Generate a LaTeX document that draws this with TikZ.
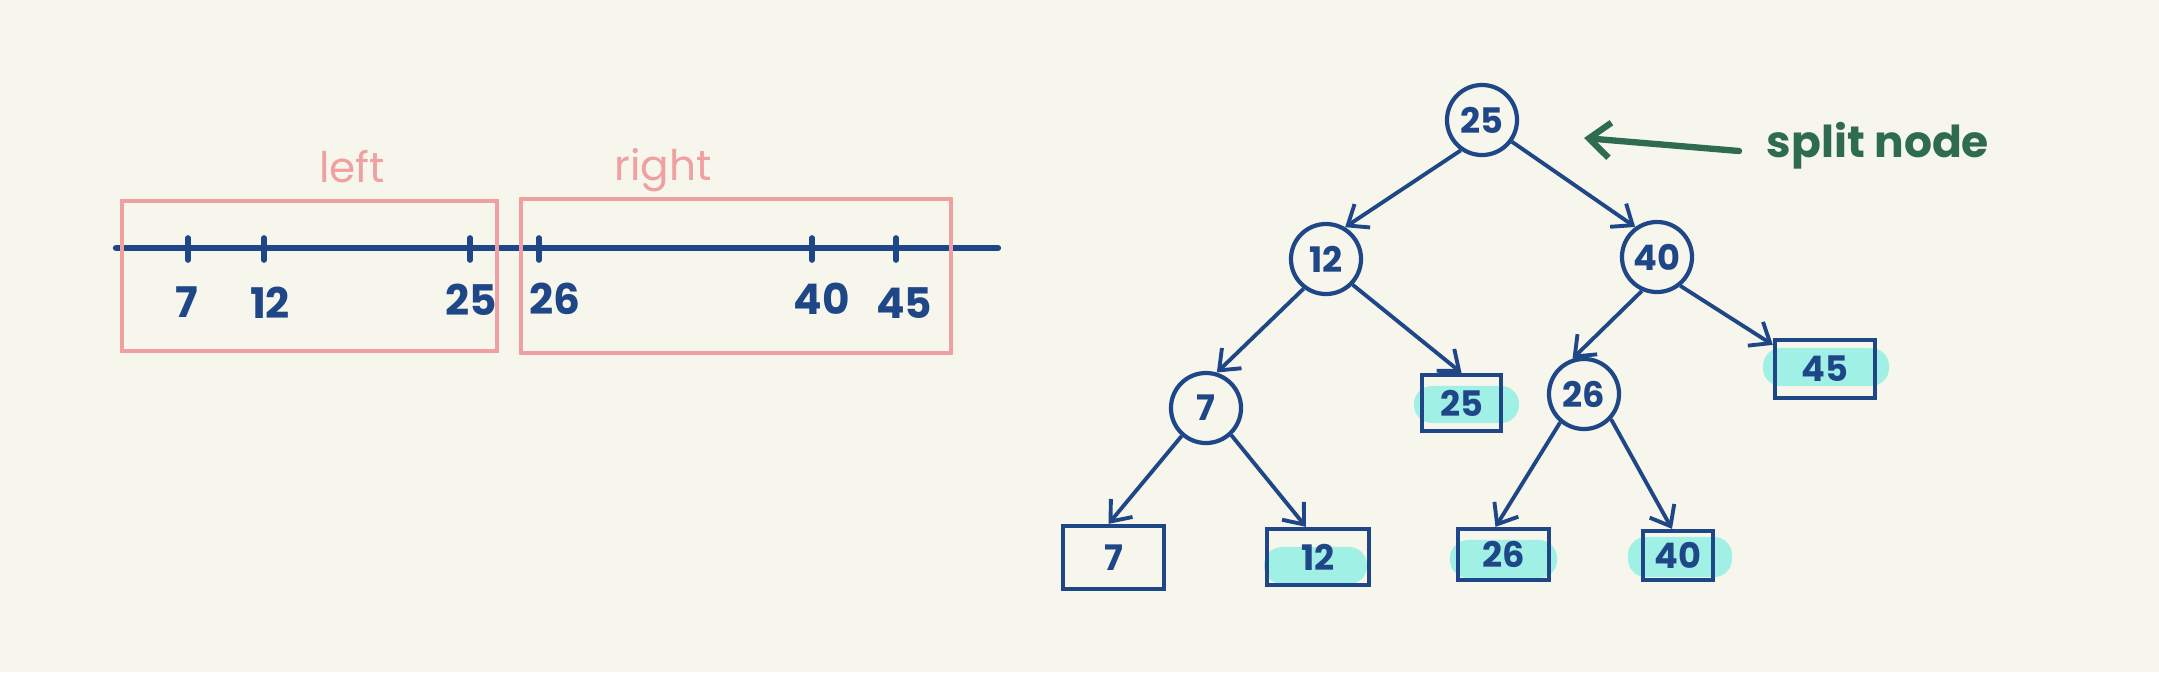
\documentclass[tikz,border=0pt]{standalone}
\usepackage{fontspec}
\setmainfont{Poppins}
\usetikzlibrary{arrows.meta}
\definecolor{bg}{HTML}{F6F6EC}
\definecolor{navy}{HTML}{1F4788}
\definecolor{pinkc}{HTML}{F0A0A0}
\definecolor{cyanhl}{HTML}{A0F0E6}
\definecolor{greenc}{HTML}{2E6B50}
\begin{document}
\begin{tikzpicture}[x=0.01cm,y=-0.01cm,
  cnode/.style={circle,draw=navy,line width=1.2pt,minimum size=0.7cm,inner sep=0pt,
    font=\bfseries\fontsize{10}{10}\selectfont,text=navy},
  leaf/.style={rectangle,draw=navy,line width=1.2pt,inner sep=0pt,
    font=\bfseries\fontsize{10}{10}\selectfont,text=navy},
  hl/.style={fill=cyanhl,rounded corners=0.18cm,inner sep=0pt},
  edge/.style={draw=navy,line width=1.1pt,-{Straight Barb[length=5pt,width=8pt]}},
  pinkbox/.style={draw=pinkc,line width=1pt,inner sep=0pt},
  tick/.style={draw=navy,line width=1.6pt,line cap=round},
  numlab/.style={text=navy,font=\bfseries\fontsize{12}{12}\selectfont},
  pinklab/.style={text=pinkc,font=\fontsize{12}{12}\selectfont},
]
\useasboundingbox[fill=bg] (0,0) rectangle (2159,672);

% number line
\coordinate (lineA) at (116,248);
\coordinate (lineB) at (998,248);
\draw[navy,line width=1.8pt,line cap=round] (lineA) -- (lineB);
\foreach \x in {188,264,470,539,812,896}
  \draw[tick] (\x,238) -- (\x,260);
\node[numlab] (l7) at (187,302) {7};
\node[numlab] (l12) at (270,303) {12};
\node[numlab] (l25) at (471,300) {25};
\node[numlab] (l26) at (555,299) {26};
\node[numlab] (l40) at (822,299) {40};
\node[numlab] (l45) at (904,303) {45};

% pink boxes
\node[pinkbox,minimum width=3.75cm,minimum height=1.50cm] (leftbox) at (309.5,276) {};
\node[pinkbox,minimum width=4.30cm,minimum height=1.54cm] (rightbox) at (736,276) {};
\node[pinklab] (leftlab) at (352,167) {left};
\node[pinklab] (rightlab) at (663,170) {right};

% highlights
\node[hl,minimum width=1.05cm,minimum height=0.37cm] (hl25) at (1466.5,404.5) {};
\node[hl,minimum width=1.26cm,minimum height=0.38cm] (hl45) at (1826,367) {};
\node[hl,minimum width=1.03cm,minimum height=0.37cm] (hl12) at (1315.5,565.5) {};
\node[hl,minimum width=1.07cm,minimum height=0.38cm] (hl26) at (1503.5,559) {};
\node[hl,minimum width=1.04cm,minimum height=0.40cm] (hl40) at (1680,557) {};

% tree nodes
\node[cnode] (root) at (1482,120) {25};
\node[cnode] (n12) at (1326,259) {12};
\node[cnode] (n40) at (1657,257) {40};
\node[cnode] (n7) at (1206,408) {7};
\node[cnode] (n26) at (1584,394) {26};

\node[leaf,minimum width=1.01cm,minimum height=0.63cm] (f7) at (1113.5,557.5) {7};
\node[leaf,minimum width=1.02cm,minimum height=0.56cm] (f12) at (1318,557) {12};
\node[leaf,minimum width=0.79cm,minimum height=0.56cm] (f25) at (1461.5,403) {25};
\node[leaf,minimum width=0.91cm,minimum height=0.51cm] (f26) at (1503.5,554.5) {26};
\node[leaf,minimum width=0.70cm,minimum height=0.49cm] (f40) at (1678,555.5) {40};
\node[leaf,minimum width=1.00cm,minimum height=0.58cm] (f45) at (1825,369) {45};

% edges
\draw[edge] (root.235) -- (n12.59);
\draw[edge] (root.324) -- (n40.126);
\draw[edge] (n12.233) -- (n7.73);
\draw[edge] (n12.316) -- (f25.north);
\draw[edge] (n40.246) -- (n26.108);
\draw[edge] (n40.309) -- ([yshift=-0.07cm]f45.north west);
\draw[edge] (n7.229) -- ([xshift=-0.05cm]f7.north);
\draw[edge] (n7.313) -- ([xshift=-0.12cm]f12.north);
\draw[edge] (n26.230) -- ([xshift=-0.08cm]f26.north);
\draw[edge] (n26.317) -- ([xshift=-0.06cm]f40.north);

% split node annotation
\node[text=greenc,font=\bfseries\fontsize{12.5}{12.5}\selectfont] (split) at (1878,146) {split node};
\coordinate (sA) at (1739,151);
\coordinate (sB) at (1584,138);
\draw[greenc,line width=1.8pt,line cap=round,-{Straight Barb[length=6pt,width=10pt]}] (sA) -- (sB);
\end{tikzpicture}
\end{document}
